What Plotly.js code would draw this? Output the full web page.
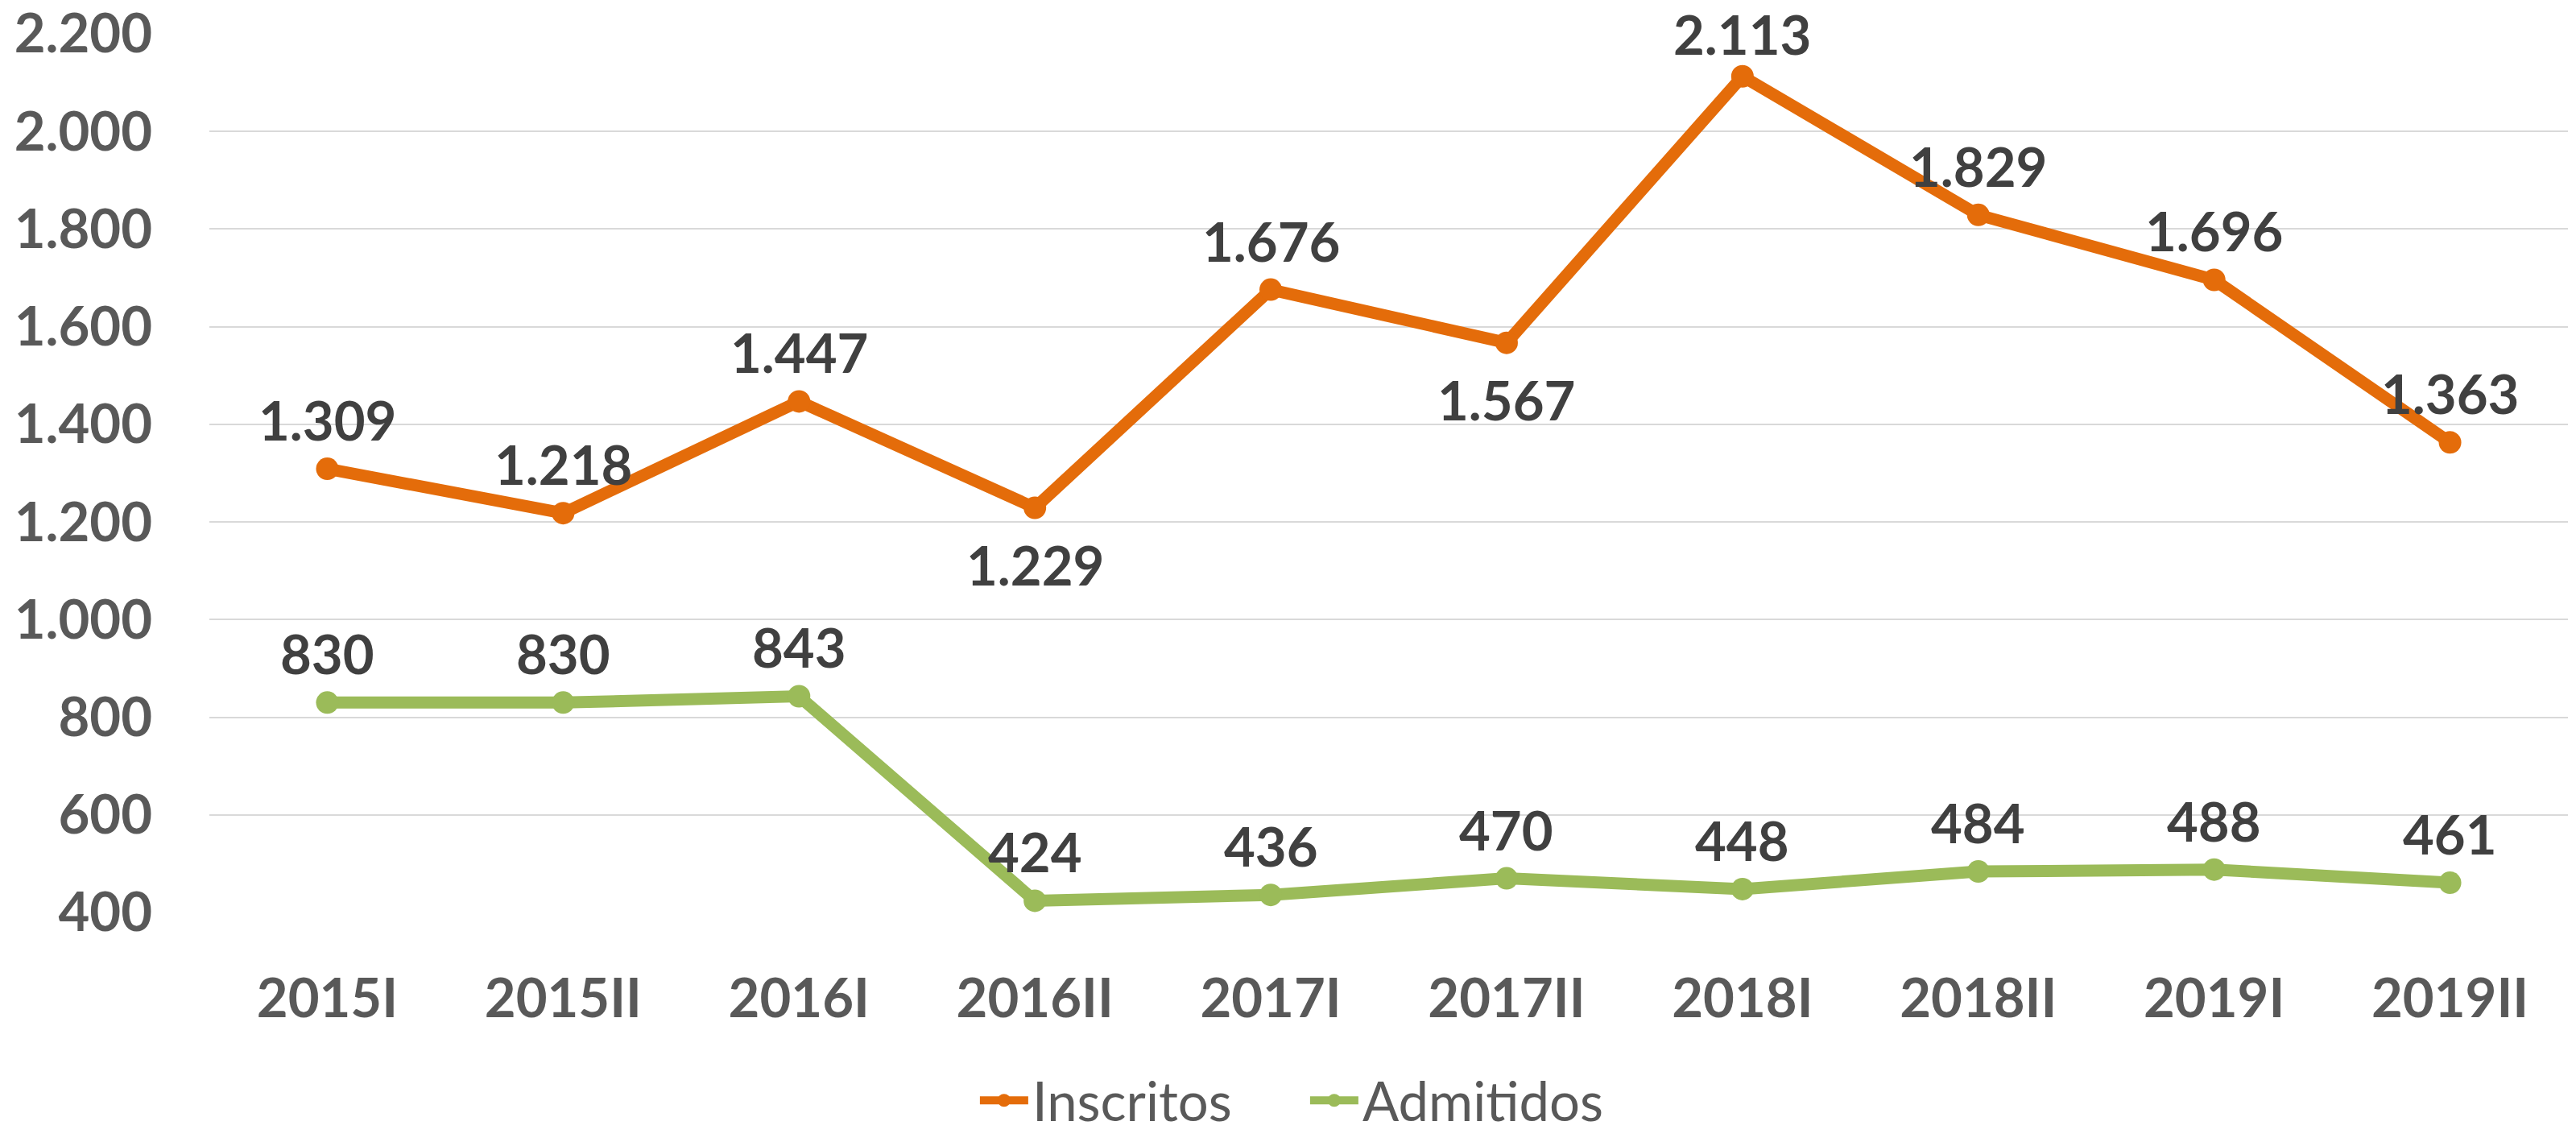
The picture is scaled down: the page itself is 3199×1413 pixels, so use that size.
<!DOCTYPE html>
<html>
<head>
<meta charset="utf-8">
<script src="https://cdn.plot.ly/plotly-3.0.1.min.js"></script>
<style>
  html, body { margin: 0; padding: 0; background: #ffffff; }
  #chart { width: 3199px; height: 1413px; }
</style>
</head>
<body>
<div id="chart"></div>
<script>
// ---- Data ----
var periods = ['2015I', '2015II', '2016I', '2016II', '2017I', '2017II', '2018I', '2018II', '2019I', '2019II'];
var inscritos = [1309, 1218, 1447, 1229, 1676, 1567, 2113, 1829, 1696, 1363];
var admitidos = [830, 830, 843, 424, 436, 470, 448, 484, 488, 461];
var yTicks = [400, 600, 800, 1000, 1200, 1400, 1600, 1800, 2000, 2200];

// label placement (above / below the point)
var inscritosLabelSide = ['above', 'above', 'above', 'below', 'above', 'below', 'above', 'above', 'above', 'above'];
var admitidosLabelSide = ['above', 'above', 'above', 'above', 'above', 'above', 'above', 'above', 'above', 'above'];

// ---- Styling ----
var FONT = 'Lato, "Open Sans", sans-serif';
var ORANGE = '#E46C0A';
var GREEN = '#9BBB59';
var Y_MIN = 400, Y_MAX = 2200;
var MARGIN = { l: 260, r: 10, t: 42, b: 280, pad: 0 };
var FIG_H = 1413;

function fmt(v) {
  return String(v).replace(/\B(?=(\d{3})+(?!\d))/g, '.');
}

// keep a label box inside the figure: limit the upward shift near the top edge
function aboveShift(v) {
  var plotH = FIG_H - MARGIN.t - MARGIN.b;
  var px = MARGIN.t + (Y_MAX - v) * plotH / (Y_MAX - Y_MIN); // pixel y of the point
  var halfBox = 42;
  return Math.min(61, px - halfBox);
}

function labels(values, sides) {
  return values.map(function (v, i) {
    var above = sides[i] === 'above';
    return {
      x: periods[i],
      y: v,
      xref: 'x',
      yref: 'y',
      text: fmt(v),
      showarrow: false,
      xanchor: 'center',
      yanchor: 'middle',
      yshift: above ? aboveShift(v) : -70,
      font: { family: FONT, size: 67, color: '#404040', weight: 700 }
    };
  });
}

var traces = [
  {
    type: 'scatter',
    mode: 'lines+markers',
    name: 'Inscritos',
    x: periods,
    y: inscritos,
    line: { color: ORANGE, width: 15 },
    marker: { color: ORANGE, size: 28 },
    hoverinfo: 'skip'
  },
  {
    type: 'scatter',
    mode: 'lines+markers',
    name: 'Admitidos',
    x: periods,
    y: admitidos,
    line: { color: GREEN, width: 15 },
    marker: { color: GREEN, size: 28 },
    hoverinfo: 'skip'
  }
];

var layout = {
  width: 3199,
  height: FIG_H,
  margin: MARGIN,
  paper_bgcolor: '#ffffff',
  plot_bgcolor: '#ffffff',
  separators: ',.',
  font: { family: FONT, color: '#595959' },
  showlegend: true,
  xaxis: {
    type: 'category',
    categoryorder: 'array',
    categoryarray: periods,
    range: [-0.5, 9.5],
    showgrid: false,
    zeroline: false,
    showline: false,
    ticks: '',
    ticklabelstandoff: 62,
    ticklabeloverflow: 'allow',
    tickfont: { family: FONT, size: 67, color: '#595959', weight: 700 },
    fixedrange: true
  },
  yaxis: {
    range: [Y_MIN, Y_MAX],
    tickmode: 'array',
    tickvals: yTicks,
    ticktext: yTicks.map(fmt),
    showgrid: true,
    gridcolor: '#D9D9D9',
    gridwidth: 2,
    zeroline: false,
    showline: false,
    ticks: '',
    ticklabelstandoff: 70,
    ticklabeloverflow: 'allow',
    tickfont: { family: FONT, size: 67, color: '#595959', weight: 700 },
    fixedrange: true
  },
  legend: {
    orientation: 'h',
    xref: 'container',
    yref: 'container',
    x: 0.507,
    xanchor: 'center',
    y: 0.0685,
    yanchor: 'top',
    itemwidth: 60,
    entrywidth: 335,
    entrywidthmode: 'pixels',
    font: { family: FONT, size: 67, color: '#595959' },
    bgcolor: 'rgba(0,0,0,0)'
  },
  annotations: labels(inscritos, inscritosLabelSide).concat(labels(admitidos, admitidosLabelSide))
};

Plotly.newPlot('chart', traces, layout, { displayModeBar: false, staticPlot: true });
</script>
</body>
</html>
